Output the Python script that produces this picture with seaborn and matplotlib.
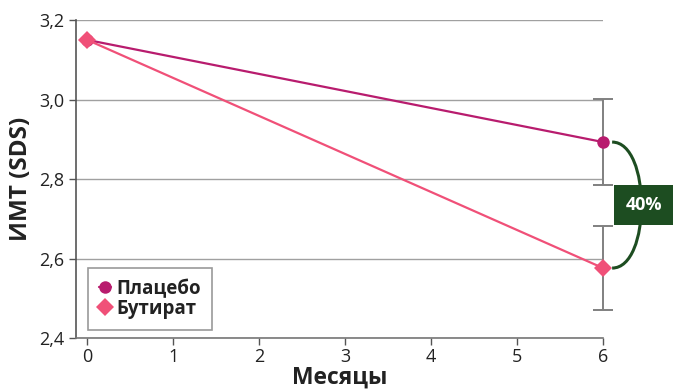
import matplotlib
matplotlib.use('Agg')
import matplotlib.pyplot as plt
from matplotlib.path import Path
from matplotlib.patches import PathPatch
import seaborn as sns
import pandas as pd

####### Data #######
months = [0, 6]
placebo = [3.15, 2.893]
butyrate = [3.15, 2.576]
err_placebo = [0.0, 0.108]
err_butyrate = [0.0, 0.105]
group_names = ['Плацебо', 'Бутират']
y_ticks = [2.4, 2.6, 2.8, 3.0, 3.2]
x_ticks = [0, 1, 2, 3, 4, 5, 6]
diff_label = '40%'

col_placebo = '#b81c6e'
col_butyrate = '#f05078'
col_green = '#1d4d21'

df = pd.DataFrame({
    'Месяцы': months * 2,
    'ИМТ': placebo + butyrate,
    'Группа': [group_names[0]] * 2 + [group_names[1]] * 2,
})

sns.set_style('white')
plt.rcParams['font.family'] = ['Open Sans', 'DejaVu Sans']

fig = plt.figure(figsize=(6.74, 3.89), dpi=100)
ax = fig.add_axes([0.1128, 0.131, 0.782, 0.8175])

# error bars (only at month 6)
for vals, errs in [(placebo, err_placebo), (butyrate, err_butyrate)]:
    eb = ax.errorbar(months[-1], vals[-1], yerr=errs[-1], fmt='none',
                     ecolor='#808080', elinewidth=1.4, capsize=7, capthick=1.4, zorder=2)
    for art in eb.lines[1] + eb.lines[2]:
        art.set_clip_on(False)

sns.lineplot(data=df, x='Месяцы', y='ИМТ', hue='Группа', style='Группа',
             palette={group_names[0]: col_placebo, group_names[1]: col_butyrate},
             markers={group_names[0]: 'o', group_names[1]: 'D'},
             dashes=False, markersize=9, markeredgewidth=0, linewidth=1.6,
             ax=ax, zorder=3)
for ln in ax.lines:
    ln.set_clip_on(False)

ax.set_xlim(-0.13, 6.0)
ax.set_ylim(2.4, 3.2)
ax.set_xticks(x_ticks)
ax.set_yticks(y_ticks)
ax.set_yticklabels([f'{v:.1f}'.replace('.', ',') for v in y_ticks])
ax.tick_params(axis='both', labelsize=13, colors='#222222', length=5, width=1,
               direction='out', left=True, bottom=True)
ax.tick_params(axis='x', pad=2)
ax.tick_params(axis='both', color='#555555')
ax.yaxis.grid(True, color='#a0a0a0', linewidth=1)
ax.set_axisbelow(True)
for s in ['top', 'right']:
    ax.spines[s].set_visible(False)
ax.spines['left'].set_color('#555555')
ax.spines['bottom'].set_color('#777777')
ax.spines['left'].set_linewidth(1.2)
ax.spines['bottom'].set_linewidth(1.2)

ax.set_xlabel('Месяцы', fontsize=16.5, fontweight='bold', color='#222222', labelpad=0)
ax.set_ylabel('ИМТ (SDS)', fontsize=17.5, fontweight='bold', color='#222222', labelpad=4)

leg = ax.legend(loc='lower left', bbox_to_anchor=(0.005, -0.005), frameon=True,
                fancybox=False, handlelength=0.6, handletextpad=0.3,
                labelspacing=0.0, borderpad=0.6, prop={'weight': 'bold', 'size': 13.5})
leg.get_frame().set_edgecolor('#808080')
leg.get_frame().set_linewidth(1.2)
for t in leg.get_texts():
    t.set_color('#222222')

# bracket between the two final points
x0 = 6.105
verts = [(x0, placebo[-1]), (6.56, placebo[-1]), (6.56, butyrate[-1]), (x0, butyrate[-1])]
path = Path(verts, [Path.MOVETO, Path.CURVE4, Path.CURVE4, Path.CURVE4])
ax.add_patch(PathPatch(path, facecolor='none', edgecolor=col_green, linewidth=2.2,
                       clip_on=False, zorder=4))
ax.text(6.47, (placebo[-1] + butyrate[-1]) / 2, diff_label, color='white',
        fontsize=13, fontweight='bold', ha='center', va='center', clip_on=False,
        bbox=dict(boxstyle='square,pad=0.6', facecolor=col_green, edgecolor='none'),
        zorder=5)

fig.savefig('out.png', dpi=100)
